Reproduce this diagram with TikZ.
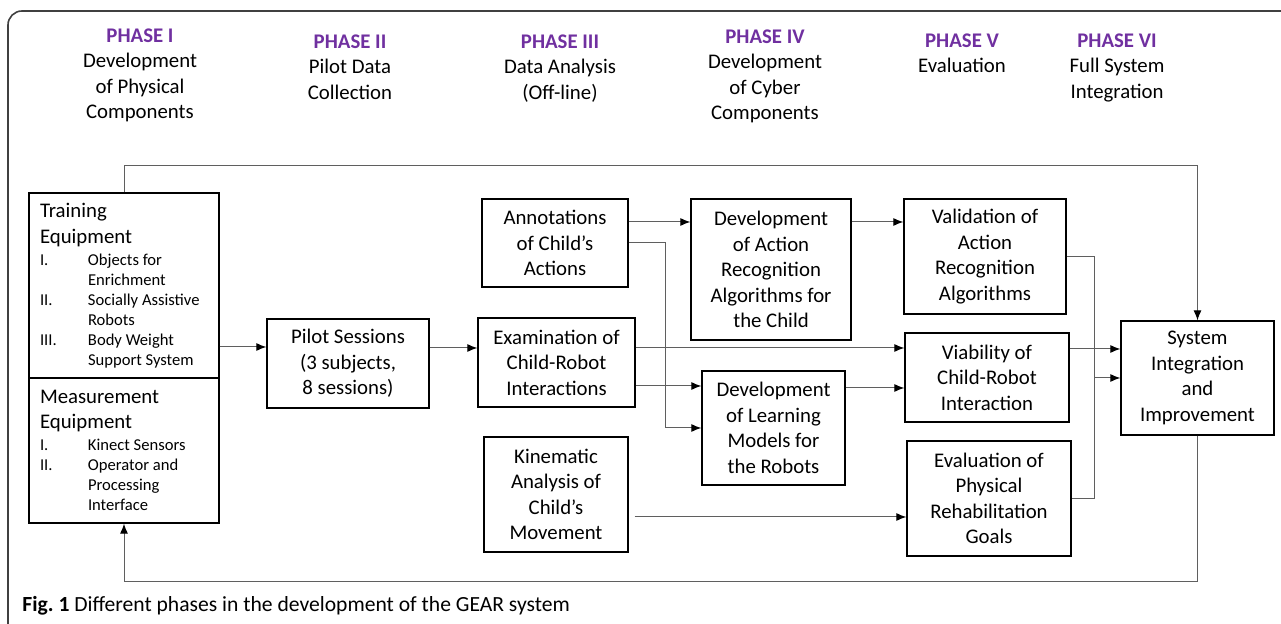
\documentclass[tikz,border=0pt]{standalone}
\usepackage{fontspec}
\setmainfont{Carlito}
\usetikzlibrary{arrows.meta,positioning}
\definecolor{phasepurple}{RGB}{112,48,160}
\definecolor{linegray}{RGB}{95,95,95}
\newcommand{\boxsz}{\fontsize{10.4}{12.75}\selectfont}
\newcommand{\itemsz}{\fontsize{8.3}{10}\selectfont}
\newcommand{\phaselabel}[2]{{\color{phasepurple}\bfseries PHASE #1}\\#2}
\newcommand{\eqitem}[2]{\makebox[24pt][l]{#1}#2}
\newcommand{\eqcont}[1]{\hspace*{24pt}#1}

\tikzset{
  blk/.style={draw=black, line width=0.65pt, align=center, inner sep=0pt, font=\boxsz},
  conn/.style={draw=linegray, line width=0.5pt, -{Latex[length=5pt,width=4pt,color=black]}},
  wire/.style={draw=linegray, line width=0.5pt},
  phaselbl/.style={align=center, anchor=north, inner sep=0pt, font=\boxsz},
  frame/.style={draw=black!75, line width=0.8pt, rounded corners=7pt}
}

\begin{document}
\begin{tikzpicture}[x=0.5pt, y=-0.5pt]
	\useasboundingbox (0,0) rectangle (1281,624);
	\draw[frame] (8,650) -- (8,11) -- (1300,11);
	% phases
	\node[phaselbl] (ph1) at (140,28) {\phaselabel{I}{Development\\of Physical\\Components}};
	\node[phaselbl] (ph2) at (350,34) {\phaselabel{II}{Pilot Data\\Collection}};
	\node[phaselbl] (ph3) at (560,34) {\phaselabel{III}{Data Analysis\\(Off-line)}};
	\node[phaselbl] (ph4) at (765,29) {\phaselabel{IV}{Development\\of Cyber\\Components}};
	\node[phaselbl] (ph5) at (962,33) {\phaselabel{V}{Evaluation}};
	\node[phaselbl] (ph6) at (1117,33) {\phaselabel{VI}{Full System\\Integration}};
	% physical components
	\node[blk, minimum width=95pt, minimum height=92.5pt] (train) at (124,285.5) {%
		\begin{minipage}{84pt}\boxsz Training\\Equipment\par\vspace{1pt}\itemsz
		\eqitem{I.}{Objects for}\\
		\eqcont{Enrichment}\\
		\eqitem{II.}{Socially Assistive}\\
		\eqcont{Robots}\\
		\eqitem{III.}{Body Weight}\\
		\eqcont{Support System}
		\end{minipage}};
	\node[blk, minimum width=95pt, minimum height=72.5pt] (meas) at (124,450.5) {%
		\begin{minipage}{84pt}\boxsz Measurement\\Equipment\par\vspace{1pt}\itemsz
		\eqitem{I.}{Kinect Sensors}\\
		\eqitem{II.}{Operator and}\\
		\eqcont{Processing}\\
		\eqcont{Interface}
		\end{minipage}};
	\node[blk, minimum width=81pt, minimum height=44.5pt] (pilot) at (348,363.5) {Pilot Sessions\\(3 subjects,\\8 sessions)};
	% analysis
	\node[blk, minimum width=73pt, minimum height=44pt] (ann) at (555,243) {Annotations\\of Child’s\\Actions};
	\node[blk, minimum width=78.5pt, minimum height=44.5pt] (exam) at (556.5,362.5) {Examination of\\Child-Robot\\Interactions};
	\node[blk, minimum width=72pt, minimum height=57.5pt] (kin) at (556,494.5) {Kinematic\\Analysis of\\Child’s\\Movement};
	% cyber components
	\node[blk, minimum width=80pt, minimum height=70.5pt] (act) at (771,269.5) {Development\\of Action\\Recognition\\Algorithms for\\the Child};
	\node[blk, minimum width=71.5pt, minimum height=57pt] (learn) at (773.5,428) {Development\\of Learning\\Models for\\the Robots};
	% evaluation
	\node[blk, minimum width=81pt, minimum height=57.5pt] (valid) at (985,256.5) {Validation of\\Action\\Recognition\\Algorithms};
	\node[blk, minimum width=82pt, minimum height=44.5pt] (viab) at (987,377.5) {Viability of\\Child-Robot\\Interaction};
	\node[blk, minimum width=82pt, minimum height=57.5pt] (eval) at (989,498.5) {Evaluation of\\Physical\\Rehabilitation\\Goals};
	% integration
	\node[blk, minimum width=76.5pt, minimum height=57pt] (sys) at (1197.5,378) {System\\Integration\\and\\Improvement};
	% connectors
	\coordinate (pin) at ([yshift=8.25pt]pilot.west);
	\draw[conn] (train.east |- pin) -- (pin);
	\coordinate (ein) at ([yshift=7.25pt]exam.west);
	\draw[conn] (pilot.east |- ein) -- (ein);
	\coordinate (aout) at ([yshift=10.5pt]ann.east);
	\draw[conn] (aout) -- (aout -| act.west);
	\draw[conn] (ann.east) -- ++(37,0) |- (learn.west);
	\coordinate (eout1) at ([yshift=7.25pt]exam.east);
	\draw[conn] (eout1) -- (eout1 -| viab.west);
	\coordinate (eout2) at ([yshift=-11.75pt]exam.east);
	\draw[conn] (eout2) -- (eout2 -| learn.west);
	\coordinate (lout) at ([yshift=20pt]learn.east);
	\draw[conn] (lout) -- (lout -| viab.west);
	\coordinate (acout) at ([yshift=23.75pt]act.east);
	\draw[conn] (acout) -- (acout -| valid.west);
	\coordinate (kout) at ([yshift=-11.25pt,xshift=3pt]kin.east);
	\draw[conn] (kout) -- (kout -| eval.west);
	\draw[wire] (valid.east) -- ++(28,0) coordinate (bus) |- (eval.east);
	\draw[conn] (bus |- sys.west) -- (sys.west);
	\coordinate (vout) at ([yshift=14.25pt]viab.east);
	\draw[conn] (vout) -- (vout -| sys.west);
	% feedback loops
	\draw[conn] (train.north) -- ++(0,-27) -| (sys.north);
	\draw[conn] (sys.south) -- ++(0,146) -| (meas.south);
	% caption
	\node[anchor=base west, inner sep=0pt, font=\fontsize{10.8}{13}\selectfont] (cap) at (22,612) {\textbf{Fig.\ 1} Different phases in the development of the GEAR system};
\end{tikzpicture}
\end{document}
